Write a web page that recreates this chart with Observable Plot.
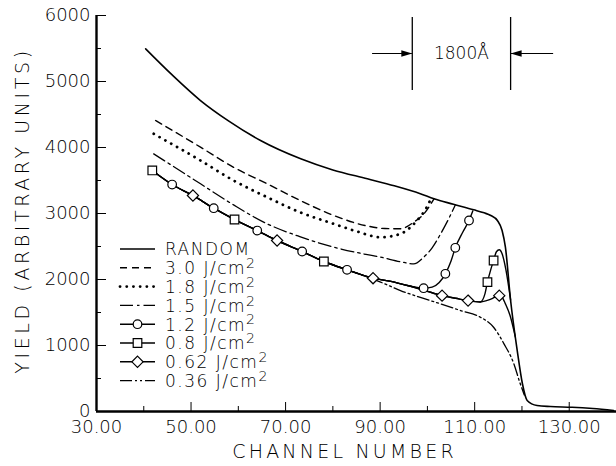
<!DOCTYPE html>
<html><head><meta charset="utf-8">
<script src="https://cdn.jsdelivr.net/npm/d3@7"></script>
<script src="https://cdn.jsdelivr.net/npm/@observablehq/plot@0.6"></script>
<style>
body{margin:0;background:#fff;}
#chart{position:relative;width:616px;height:466px;}
#chart svg text{font-weight:300;}
</style>
</head><body><div id="chart"></div>
<script>
// ---- Axis ticks / labels ----
const xMajor = [30, 50, 70, 90, 110, 130];
const xMinor = [40, 60, 80, 100, 120, 140];
const yMajor = [0, 1000, 2000, 3000, 4000, 5000, 6000];
const yMinor = [500, 1500, 2500, 3500, 4500, 5500];
const xTitle = ["CHANNEL NUMBER"];
const yTitle = ["YIELD (ARBITRARY UNITS)"];

// ---- Series (channel, yield) ----
const randomCh = [40.4, 46, 52, 58, 64.7, 73.2, 80, 87.3, 93, 98.5, 101.4, 105.5, 109.8, 112, 113.4, 114.8, 115.8, 116.5, 117.6, 119.0, 120.1, 121.1, 123.2, 126, 130.6, 135, 139.4];
const randomY  = [5495, 5100, 4712, 4400, 4106, 3829, 3660, 3526, 3420, 3300, 3222, 3140, 3056, 3010, 2970, 2894, 2742, 2490, 1682, 924, 420, 167, 91, 75, 65, 45, 15];

const j30Ch = [42.5, 52, 59, 66.1, 73, 80.2, 87.3, 91, 94.3, 97.1, 99.2, 101.4];
const j30Y  = [4409, 4005, 3700, 3450, 3200, 2970, 2810, 2772, 2768, 2868, 2990, 3222];

const j18Ch = [42.1, 52, 59, 66.1, 73, 80.2, 85, 90.1, 94.3, 97.8, 99.5, 100.8];
const j18Y  = [4207, 3803, 3500, 3247, 3020, 2843, 2730, 2640, 2692, 2894, 3050, 3230];

const j15Ch = [42.1, 52, 59, 66.1, 73, 80.2, 87, 90.1, 94.3, 97.1, 99.2, 101, 102.8, 104.5, 105.9];
const j15Y  = [3904, 3450, 3130, 2843, 2650, 2490, 2380, 2338, 2270, 2237, 2338, 2480, 2692, 2920, 3130];

// shared low branch of 1.2 / 0.8 / 0.62 J/cm2
const lowCh = [41.8, 46, 50.4, 54.8, 59.2, 64, 68.2, 73.5, 78.1, 83, 88.5, 92, 96, 99.2, 103.1, 106, 108.6, 111.2];
const lowY  = [3652, 3439, 3273, 3080, 2909, 2742, 2591, 2424, 2273, 2147, 2020, 1975, 1905, 1840, 1755, 1715, 1680, 1660];

const j12Ch = [99.2, 101, 102.5, 103.8, 105, 105.9, 107.5, 108.8, 109.6];
const j12Y  = [1868, 1885, 1955, 2086, 2280, 2480, 2720, 2894, 3040];

const j08Ch = [112.2, 112.7, 113.4, 114, 114.6, 115.2, 115.8, 116.6, 117.6];
const j08Y  = [1790, 1960, 2150, 2288, 2420, 2450, 2390, 2150, 1690];

const j062Ch = [112.5, 113.8, 114.6, 115.2, 115.8, 116.5, 117.5, 118.6];
const j062Y  = [1680, 1715, 1745, 1755, 1730, 1631, 1450, 1130];

const j036Ch = [78.1, 83, 88.5, 90.1, 94.3, 98, 102.8, 107, 111.2, 114, 116.2, 118.3, 119.5, 120.5];
const j036Y  = [2273, 2147, 2005, 1960, 1833, 1740, 1631, 1530, 1429, 1277, 1025, 722, 450, 250];

// marker positions
const circleCh = [46, 54.8, 64, 73.5, 83, 99.2, 103.8, 105.9, 108.8];
const circleY  = [3439, 3080, 2742, 2424, 2147, 1868, 2086, 2480, 2894];
const squareCh = [41.8, 59.2, 78.1, 112.7, 114];
const squareY  = [3652, 2909, 2273, 1960, 2288];
const diamondCh = [50.4, 68.2, 88.5, 103.1, 108.6, 115.2];
const diamondY  = [3273, 2591, 2020, 1755, 1680, 1755];

// 1800 Å annotation (channel span and y extent)
const annotCh = [96.8, 117.6];
const annotY = [4864, 5970];
const annotArrowY = 5424;
const annotArrowOuter = [88.4, 126.7];
const annotText = ["1800Å"];

const legendLabels = ["RANDOM", "3.0", "1.8", "1.5", "1.2", "0.8", "0.62", "0.36"];

// ---- build tables ----
const rows = (chs, ys) => chs.map((x, i) => ({x, y: ys[i]}));
const concatLow = (chs, ys, upto) => {
  const base = rows(lowCh, lowY).filter(d => d.x < upto);
  return base.concat(rows(chs, ys));
};
const S = {
  random: rows(randomCh, randomY),
  j30: rows(j30Ch, j30Y),
  j18: rows(j18Ch, j18Y),
  j15: rows(j15Ch, j15Y),
  j12: concatLow(j12Ch, j12Y, 97),
  j08: rows(lowCh, lowY).concat(rows(j08Ch, j08Y)),
  j062: rows(lowCh, lowY).concat(rows(j062Ch, j062Y)),
  j036: rows(j036Ch, j036Y)
};

const styles = {
  random: {strokeWidth: 1.6},
  j30: {strokeWidth: 1.4, strokeDasharray: "7,5"},
  j18: {strokeWidth: 2.8, strokeDasharray: "0.1,6.6", strokeLinecap: "round"},
  j15: {strokeWidth: 1.3, strokeDasharray: "13,4,2.5,4"},
  j12: {strokeWidth: 1.4},
  j08: {strokeWidth: 1.4},
  j062: {strokeWidth: 1.4},
  j036: {strokeWidth: 1.3, strokeDasharray: "12,3,2,3,2,3"}
};

// custom marker symbols (fixed size)
const symCircle = {draw(c){ c.moveTo(4.3,0); c.arc(0,0,4.3,0,2*Math.PI); c.closePath(); }};
const symSquare = {draw(c){ c.rect(-4.3,-4.3,8.6,8.6); }};
const symDiamond = {draw(c){ const r=5.6; c.moveTo(0,-r); c.lineTo(r,0); c.lineTo(0,r); c.lineTo(-r,0); c.closePath(); }};
const arrowRight = {draw(c){ c.moveTo(0,0); c.lineTo(-11,-3.2); c.lineTo(-11,3.2); c.closePath(); }};
const arrowLeft = {draw(c){ c.moveTo(0,0); c.lineTo(11,-3.2); c.lineTo(11,3.2); c.closePath(); }};

const font = "DejaVu Sans";
const marks = [];
for (const k of Object.keys(S)) {
  marks.push(Plot.line(S[k], {x: "x", y: "y", stroke: "black", curve: "monotone-x", ...styles[k]}));
}
marks.push(Plot.dot(rows(circleCh, circleY), {x: "x", y: "y", symbol: symCircle, fill: "white", stroke: "black", strokeWidth: 1.2}));
marks.push(Plot.dot(rows(squareCh, squareY), {x: "x", y: "y", symbol: symSquare, fill: "white", stroke: "black", strokeWidth: 1.2}));
marks.push(Plot.dot(rows(diamondCh, diamondY), {x: "x", y: "y", symbol: symDiamond, fill: "white", stroke: "black", strokeWidth: 1.2}));

// annotation
marks.push(Plot.ruleX(annotCh, {y1: annotY[0], y2: annotY[1], stroke: "black", strokeWidth: 1.3}));
marks.push(Plot.ruleY([annotArrowY], {x1: annotArrowOuter[0], x2: annotCh[0], stroke: "black", strokeWidth: 1.1}));
marks.push(Plot.ruleY([annotArrowY], {x1: annotCh[1], x2: annotArrowOuter[1], stroke: "black", strokeWidth: 1.1}));
marks.push(Plot.dot([{x: annotCh[0], y: annotArrowY}], {x: "x", y: "y", symbol: arrowRight, fill: "black", stroke: "none"}));
marks.push(Plot.dot([{x: annotCh[1], y: annotArrowY}], {x: "x", y: "y", symbol: arrowLeft, fill: "black", stroke: "none"}));
marks.push(Plot.text(annotText, {x: (annotCh[0] + annotCh[1]) / 2, y: annotArrowY, text: d => d, fontSize: 17, fill: "black"}));

// axes
marks.push(Plot.axisX({ticks: xMajor, tickSize: -9, tickFormat: () => "", label: null}));
marks.push(Plot.axisX({ticks: xMinor, tickSize: -5, tickFormat: () => "", label: null}));
marks.push(Plot.axisX({ticks: xMajor, tickSize: 0, tickPadding: 9, tickFormat: d => d.toFixed(2), label: null, fontSize: 18}));
marks.push(Plot.axisY({ticks: yMajor, tickSize: -10, tickFormat: () => "", label: null}));
marks.push(Plot.axisY({ticks: yMinor, tickSize: -5, tickFormat: () => "", label: null}));
marks.push(Plot.axisY({ticks: yMajor, tickSize: 0, tickPadding: 6, tickFormat: d => String(d), label: null, fontSize: 18}));
marks.push(Plot.ruleX([30], {stroke: "black", strokeWidth: 2.4}));
marks.push(Plot.ruleY([0], {stroke: "black", strokeWidth: 2.4}));
marks.push(Plot.text(xTitle, {frameAnchor: "bottom", text: d => d, dy: 46, dx: -12, fontSize: 19, fill: "black"}));
marks.push(Plot.text(yTitle, {frameAnchor: "left", textAnchor: "middle", text: d => d, dx: -74, dy: -3, rotate: -90, fontSize: 19, fill: "black"}));

const chart = Plot.plot({
  width: 616, height: 466,
  marginLeft: 96, marginRight: 0, marginTop: 15, marginBottom: 55,
  x: {domain: [30, 140]},
  y: {domain: [0, 6000]},
  style: {fontFamily: font, fontSize: "17px", fontWeight: 300, color: "black", background: "white", overflow: "visible"},
  marks
});
document.getElementById("chart").appendChild(chart);

// wider letter spacing on the axis titles, as in the lettering of the original
const svg = d3.select(chart);
svg.selectAll("text").filter(function() { return this.textContent === xTitle[0]; }).style("letter-spacing", "3.2px");
svg.selectAll("text").filter(function() { return this.textContent === yTitle[0]; }).style("letter-spacing", "3.6px");

// legend (inside the frame, lower left)
const leg = svg.append("g").attr("font-family", font).attr("font-size", 17).attr("font-weight", 300)
  .attr("text-anchor", "start").attr("fill", "black");
const keys = ["random", "j30", "j18", "j15", "j12", "j08", "j062", "j036"];
const legMarkers = {j12: symCircle, j08: symSquare, j062: symDiamond};
keys.forEach((k, i) => {
  const y = 249 + i * 18.8;
  const st = styles[k];
  leg.append("line").attr("x1", 120).attr("x2", 155).attr("y1", y).attr("y2", y)
    .attr("stroke", "black").attr("stroke-width", st.strokeWidth)
    .attr("stroke-dasharray", st.strokeDasharray || null)
    .attr("stroke-linecap", st.strokeLinecap || null);
  if (legMarkers[k]) {
    const p = d3.path(); legMarkers[k].draw(p);
    leg.append("path").attr("d", p.toString()).attr("transform", `translate(137.5,${y})`)
      .attr("fill", "white").attr("stroke", "black").attr("stroke-width", 1.2);
  }
  const t = leg.append("text").attr("x", 165).attr("y", y).attr("dy", "0.38em").style("letter-spacing", "1.5px");
  if (k === "random") t.text(legendLabels[i]);
  else {
    t.append("tspan").text(legendLabels[i] + " J/cm");
    t.append("tspan").attr("dy", "-0.45em").attr("font-size", 14).text("2");
  }
});
</script></body></html>
